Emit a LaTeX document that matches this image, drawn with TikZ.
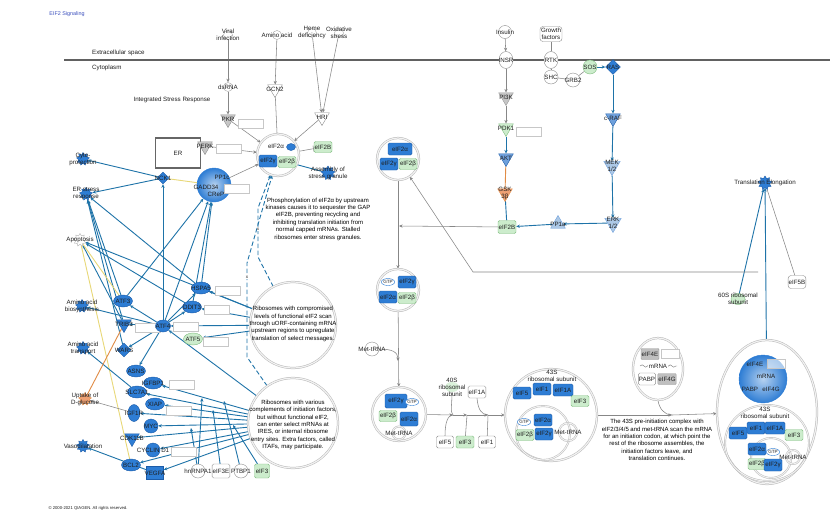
\documentclass[tikz,border=0pt]{standalone}
\usepackage{fontspec}
\setmainfont{Liberation Sans}
\usetikzlibrary{shapes.geometric,arrows.meta,decorations.pathmorphing}
\pgfdeclarelayer{bg}
\pgfsetlayers{bg,main}

\definecolor{nblue}{RGB}{46,125,212}
\definecolor{nbluedk}{RGB}{28,92,168}
\definecolor{mblue}{RGB}{110,160,220}
\definecolor{lblue}{RGB}{172,200,230}
\definecolor{ngreen}{RGB}{204,236,204}
\definecolor{ngreendk}{RGB}{130,190,130}
\definecolor{eblue}{RGB}{30,115,168}
\definecolor{egray}{RGB}{135,135,135}
\definecolor{salmon}{RGB}{238,160,115}
\definecolor{eorange}{RGB}{225,140,70}
\definecolor{eyellow}{RGB}{232,216,120}
\definecolor{titleblue}{RGB}{60,80,190}

\newcommand{\figfont}{\fontsize{6.2}{7}\selectfont}
\newcommand{\notefont}{\fontsize{6}{7.4}\selectfont}
\newcommand{\tinyfont}{\fontsize{4.6}{5.2}\selectfont}

\tikzset{
  lbl/.style={font=\figfont, align=center, inner sep=0pt, text=black!88},
  txt/.style={label={[lbl]center:#1}},
  mol/.style={font=\figfont, align=center, inner sep=0.6pt, text=black!88, line width=0.4pt},
  bov/.style={mol, ellipse, fill=nblue, draw=nbluedk, minimum width=19, minimum height=12},
  brect/.style={mol, rectangle, rounded corners=1.5pt, fill=nblue, draw=nbluedk, minimum width=18, minimum height=12},
  grect/.style={mol, rectangle, rounded corners=1.5pt, fill=ngreen, draw=ngreendk, minimum width=18, minimum height=11},
  wrect/.style={mol, rectangle, rounded corners=1.5pt, fill=white, draw=black!45, minimum width=17, minimum height=12},
  graybox/.style={mol, rectangle, rounded corners=1pt, fill=gray!50, draw=black!40, minimum width=18, minimum height=11},
  wcirc/.style={mol, circle, fill=white, draw=black!45, minimum size=14, inner sep=0pt},
  fun/.style={mol, circle, fill=white, draw=black!35, minimum size=9, inner sep=0pt},
  gtp/.style={mol, ellipse, fill=white, draw=nblue, font=\tinyfont, minimum width=11, minimum height=7, inner sep=0pt},
  kin/.style={mol, regular polygon, regular polygon sides=3, shape border rotate=180, minimum size=17, inner sep=0pt},
  pho/.style={mol, regular polygon, regular polygon sides=3, minimum size=17, inner sep=0pt},
  dia/.style={mol, diamond, minimum size=13, inner sep=0pt, fill=nblue, draw=nbluedk},
  fstar/.style={star, star points=9, star point ratio=1.5, minimum size=13, inner sep=0pt, draw=nbluedk, fill=nblue, line width=0.4pt},
  lbox/.style={rectangle, draw=black!22, fill=white, minimum width=25, minimum height=9, inner sep=0pt},
  grp/.style={circle, draw=black!28, line width=0.5pt, double=black!5, double distance=1.2pt, fill=white},
  grpell/.style={ellipse, draw=black!28, line width=0.5pt, double=black!5, double distance=1.2pt, fill=white},
  inring/.style={draw=black!28, line width=0.45pt, double=black!5, double distance=1pt},
  notetext/.style={lbl, font=\notefont, text=black},
  headtip/.style={-{Stealth[length=3.6pt,width=3.2pt]}},
  bline/.style={draw=eblue, line width=0.9pt},
  bedge/.style={bline, headtip},
  gline/.style={draw=egray, line width=0.55pt},
  gedge/.style={gline, headtip},
  dedge/.style={bedge, dash pattern=on 4.5pt off 2.5pt},
  yline/.style={draw=eyellow, line width=0.9pt},
  oline/.style={draw=eorange, line width=0.9pt},
}

\begin{document}
\begin{tikzpicture}[x=1pt,y=-1pt]
\useasboundingbox (0,0) rectangle (835,512);

% ---------- page furniture
\node[lbl, font=\fontsize{5.4}{6}\selectfont, text=titleblue] (title) at (67,14) {EIF2 Signaling};
\node[lbl, font=\fontsize{4.2}{5}\selectfont] (copyr) at (88,508) {© 2000-2021 QIAGEN. All rights reserved.};
\coordinate (memL) at (64,60);
\coordinate (memR) at (830,60);
\draw[black!62, line width=1.8pt] (memL) -- (memR);
\node[lbl, anchor=west] (extra) at (92,53) {Extracellular space};
\node[lbl, anchor=west] (cytop) at (92,68) {Cytoplasm};
\node[lbl] (isrlabel) at (172,100) {Integrated Stress Response};

% ---------- stress inputs and eIF2 kinases
\node[fun, txt={Viral\\infection}] (vir) at (228,35) {};
\node[fun, txt=dsRNA] (dsrna) at (228,87) {};
\node[fun, txt={Amino acid}] (aa) at (277,35) {};
\node[fun, txt={Heme\\deficiency}] (heme) at (312,33) {};
\node[fun, txt={Oxidative\\stress}] (ox) at (339,33) {};
\node[kin, fill=gray!45, draw=black!45, txt=PKR] (pkr) at (228,119) {};
\node[lbox] (pkrbox) at (251,124) {};
\node[kin, fill=white, draw=black!45, txt=GCN2] (gcn) at (275,89) {};
\node[kin, fill=white, draw=black!45, txt=HRI] (hri) at (322,117) {};
\node[lbl, draw=black!60, line width=1.3pt, minimum width=45, minimum height=30] (er) at (178,153) {ER};
\node[kin, fill=gray!45, draw=black!45, txt=PERK] (perk) at (205,146) {};
\node[lbox] (perkbox) at (229,149) {};

% eIF2 complex held by the kinases
\node[grp, minimum size=42] (isr) at (278,155) {};
\node[bov, minimum width=9, minimum height=7] (isrp) at (291,147) {};
\node[lbl] (isra) at (276,146) {eIF2α};
\node[brect] (isrg) at (268,161) {eIF2γ};
\node[grect] (isrb) at (287,162) {eIF2β};
\node[grect] (eiftb) at (323,147) {eIF2B};
\node[fstar, minimum size=14, txt={Assembly of\\stress granule}] (sg) at (328,173) {};
\node[notetext] (note1) at (318,219) {Phosphorylation of eIF2α by upstream\\kinases causes it to sequester the GAP\\eIF2B, preventing recycling and\\inhibiting translation initiation from\\normal capped mRNAs. Stalled\\ribosomes enter stress granules.};

% ---------- insulin / growth factor signalling
\node[wcirc, minimum size=13, txt=Insulin] (ins) at (505,32) {};
\node[mol, ellipse, fill=white, draw=black!45, minimum width=14, minimum height=17, inner sep=0pt, txt=INSR] (insr) at (506,60) {};
\node[kin, fill=gray!45, draw=black!40, txt=PI3K] (pik) at (506,97) {};
\node[kin, fill=ngreen, draw=ngreendk, txt=PDK1] (pdk) at (506,128) {};
\node[lbox] (pdkbox) at (529,132) {};
\node[kin, fill=mblue, draw=nbluedk, txt=AKT] (akt) at (506,158) {};
\node[kin, fill=salmon, draw=eorange, txt={GSK\\3β}] (gsk) at (505,193) {};
\node[grect, minimum height=13] (eifbr) at (507,227) {eIF2B};
\node[wrect, rounded corners=3pt, minimum width=22, minimum height=15] (gf) at (551,34) {Growth\\factors};
\node[mol, ellipse, fill=white, draw=black!45, minimum width=14, minimum height=17, inner sep=0pt, txt=RTK] (rtk) at (551,60) {};
\node[wcirc, txt=SHC] (shc) at (551,77) {};
\node[wcirc, txt=GRB2] (grb) at (573,80) {};
\node[wcirc, fill=ngreen, draw=ngreendk, txt=SOS] (sos) at (590,67) {};
\node[dia, minimum size=15, txt=RAS] (ras) at (613,67) {};
\node[kin, fill=mblue, draw=nbluedk, txt=c-RAF] (craf) at (613,118) {};
\node[kin, fill=lblue, draw=mblue, minimum size=19, txt={MEK\\1/2}] (mek) at (612,166) {};
\node[kin, fill=lblue, draw=mblue, minimum size=19, txt={ERK\\1/2}] (erk) at (613,223) {};
\node[pho, fill=lblue, draw=mblue, txt=PP1a] (ppa) at (558,224) {};

% ---------- eIF2 recycling and ternary complex
\node[grp, minimum size=42] (ca) at (398,159) {};
\node[brect, minimum width=24] (caa) at (400,149) {eIF2α};
\node[brect] (cag) at (389,164) {eIF2γ};
\node[grect] (cab) at (408,164) {eIF2β};

\node[grp, minimum size=42] (cb) at (398,290) {};
\node[gtp] (cbp) at (388,282) {GTP};
\node[brect] (cbg) at (407,282) {eIF2γ};
\node[brect] (cba) at (388,297) {eIF2α};
\node[grect] (cbb) at (407,298) {eIF2β};

\node[wcirc, txt=Met-tRNA] (mettr) at (372,349) {};

\node[grp, minimum size=54] (cc) at (399,414) {};
\node[brect, minimum width=22, minimum height=14] (ccg) at (396,401) {eIF2γ};
\node[gtp] (ccp) at (412,402) {GTP};
\node[grect] (ccb) at (388,416) {eIF2β};
\node[brect, minimum height=14] (cca) at (409,419) {eIF2α};
\node[circle, inring, minimum size=13, inner sep=0pt, txt=Met-tRNA] (ccm) at (399,433) {};

% factors joining the 40S subunit
\node[mol, ellipse, fill=ngreen!70, minimum width=14, minimum height=10, inner sep=0pt, txt={40S\\ribosomal\\subunit}] (s40) at (452,387) {};
\node[wrect] (e1a) at (477,392) {eIF1A};
\node[wrect] (e5) at (445,442) {eIF5};
\node[grect, minimum height=12] (e3) at (465,442) {eIF3};
\node[wrect] (e1) at (487,442) {eIF1};
\coordinate (j1) at (453,415);
\coordinate (j2) at (467,415);
\coordinate (j3) at (488,415);

% 43S pre-initiation complex
\node[grp, minimum size=92] (cd) at (551,415) {};
\node[lbl] (cdl) at (552,376) {43S\\ribosomal subunit};
\node[brect] (cd5) at (522,393) {eIF5};
\node[brect] (cd1) at (542,389) {eIF1};
\node[brect, minimum width=20] (cd1a) at (563,390) {eIF1A};
\node[grect] (cd3) at (580,401) {eIF3};
\node[circle, inring, minimum size=54] (cdi) at (543,433) {};
\node[gtp] (cdp) at (524,422) {GTP};
\node[brect] (cda) at (543,420) {eIF2α};
\node[grect] (cdb) at (525,435) {eIF2β};
\node[brect] (cdg) at (544,434) {eIF2γ};
\node[circle, inring, minimum size=18, inner sep=0pt, txt=Met-tRNA] (cdm) at (568,432) {};

\coordinate (jm) at (672,415);
\node[notetext] (note3) at (657,440) {The 43S pre-initiation complex with\\eIF2/3/4/5 and met-tRNA scan the mRNA\\for an initiation codon, at which point the\\rest of the ribosome assembles, the\\initiation factors leave, and\\translation continues.};

% capped mRNA complex
\node[grpell, minimum width=50, minimum height=62] (ce) at (658,369) {};
\node[graybox] (ce4e) at (650,354) {eIF4E};
\node[lbox, minimum width=18] (ce4ebox) at (670,354) {};
\coordinate (cew1) at (640,366);
\coordinate (cew2) at (677,366);
\draw[black!55, decorate, decoration={snake, amplitude=1.2pt, segment length=7pt}] (cew1) -- (cew2);
\node[lbl, fill=white, inner sep=0.8pt] (cem) at (658,366) {mRNA};
\node[wrect] (cepab) at (647,379) {PABP};
\node[graybox] (ce4g) at (667,379) {eIF4G};

% complete initiation complex
\node[grpell, minimum width=100, minimum height=144] (cf) at (767,412) {};
\node[circle, inner color=nblue!35, outer color=nblue, draw=nblue, minimum size=48] (cft) at (763,379) {};
\node[lbl] (cf4e) at (755,364) {eIF4E};
\node[lbox, minimum width=18, fill opacity=0.6] (cf4ebox) at (776,364) {};
\node[lbl] (cfm) at (766,376) {mRNA};
\node[lbl] (cfpab) at (750,389) {PABP};
\node[lbl] (cf4g) at (771,389) {eIF4G};
\node[ellipse, inring, minimum width=84, minimum height=76] (cfi) at (767,443) {};
\node[lbl] (cfl) at (765,413) {43S\\ribosomal subunit};
\node[brect] (cf5) at (738,433) {eIF5};
\node[brect] (cf1) at (756,428) {eIF1};
\node[brect, minimum width=20] (cf1a) at (775,428) {eIF1A};
\node[grect] (cf3) at (794,435) {eIF3};
\node[circle, inring, minimum size=40] (cfc) at (771,458) {};
\node[brect] (cfa) at (757,449) {eIF2α};
\node[gtp] (cfp) at (773,452) {GTP};
\node[grect] (cfb) at (757,464) {eIF2β};
\node[brect] (cfg) at (773,465) {eIF2γ};
\node[circle, inring, minimum size=14, inner sep=0pt, txt=Met-tRNA] (cfmt) at (793,457) {};

% elongation
\node[fstar, minimum size=14, txt={Translation Elongation}] (te) at (765,183) {};
\node[mol, ellipse, fill=ngreen, draw=ngreendk, minimum width=14, minimum height=11, inner sep=0pt, txt={60S ribosomal\\subunit}] (s60) at (738,299) {};
\node[wrect, rounded corners=3pt, minimum height=13] (e5b) at (797,282) {eIF5B};
\coordinate (rt1) at (758,272);
\coordinate (rt2) at (473,272);
\coordinate (vj) at (399,226);
\coordinate (mj) at (398,361);

% ---------- left network: outcomes
\node[fstar, txt={Cyto-\\protection}] (fcyto) at (83,159) {};
\node[fstar, txt={ER stress\\response}] (fers) at (86,194) {};
\node[fstar, fill=white, draw=black!30, txt=Apoptosis] (fapo) at (80,240) {};
\node[fstar, txt={Amino acid\\biosynthesis}] (faab) at (82,306) {};
\node[fstar, txt={Amino acid\\transport}] (faat) at (83,348) {};
\node[fstar, fill=salmon, draw=eorange, txt={Uptake of\\D-glucose}] (fglu) at (85,399) {};
\node[fstar, txt=Vasodilatation] (fvaso) at (83,446) {};

% left network: molecules
\node[dia, minimum size=12, txt=NCK1] (nck) at (163,178) {};
\node[circle, inner color=nblue!35, outer color=nblue, draw=nblue, minimum size=34] (pp1) at (214,185) {};
\node[lbl] (pp1lab) at (222,177) {PP1c};
\node[lbl] (gaddlab) at (206,187) {GADD34};
\node[lbl] (creplab) at (216,194) {CReP};
\node[lbox] (pp1box) at (237,189) {};
\node[bov, txt=HSPA5] (hspa) at (201,288) {};
\node[lbox] (hspabox) at (228,291) {};
\node[bov, txt=ATF3] (atf3) at (123,301) {};
\node[bov, txt=DDIT3] (ddit) at (192,307) {};
\node[lbox] (dditbox) at (217,310) {};
\node[kin, fill=nblue, draw=nbluedk, txt=TRIB3] (trib) at (124,324) {};
\node[lbox] (tribbox) at (148,328) {};
\node[bov, minimum width=15, txt=ATF4] (atf4) at (163,326) {};
\node[lbox] (atf4box) at (186,327) {};
\node[bov, fill=ngreen, draw=ngreendk, txt=ATF5] (atf5) at (193,339) {};
\node[lbox] (atf5box) at (216,342) {};
\node[dia, minimum size=14, txt=WARS] (wars) at (124,350) {};
\node[bov, txt=ASNS] (asns) at (136,371) {};
\node[bov, txt=IGFBP1] (igfbp) at (153,383) {};
\node[lbox] (igfbpbox) at (182,385) {};
\node[bov, txt=SLC7A1] (slc) at (137,392) {};
\node[bov, txt=XIAP] (xiap) at (155,404) {};
\node[lbox] (xiapbox) at (179,411) {};
\node[bov, minimum width=12, minimum height=17, txt=IGF1R] (igf1r) at (134,413) {};
\node[bov, minimum width=14, minimum height=14, txt=MYC] (myc) at (151,426) {};
\node[kin, fill=nblue, draw=nbluedk, txt=CDK11B] (cdk) at (132,438) {};
\node[bov, minimum width=14, minimum height=14, txt={CYCLIN D1}] (ccnd) at (153,450) {};
\node[lbox] (ccndbox) at (184,452) {};
\node[bov, txt=BCL2] (bcl) at (131,465) {};
\node[mol, rectangle, fill=nblue, draw=nbluedk, minimum width=17, minimum height=13, txt=VEGFA] (vegf) at (155,473) {};
\node[wcirc, txt=hnRNPA1] (hnr) at (198,471) {};
\node[wrect, minimum width=14, minimum height=14] (e3e) at (221,471) {eIF3E};
\node[wcirc, txt=PTBP1] (ptb) at (241,471) {};
\node[grect, minimum width=15, minimum height=14] (e3b) at (262,471) {eIF3};
\coordinate (ha) at (202,398);
\coordinate (hb) at (191,428);
\coordinate (ea) at (213,410);
\coordinate (pa) at (224,401);
\coordinate (ga) at (233,425);

% translation-control circles
\node[grp, minimum size=86] (c1) at (293,325) {};
\node[notetext] (c1t) at (293,324) {Ribosomes with compromised\\levels of functional eIF2 scan\\through uORF-containing mRNA\\upstream regions to upregulate\\translation of select messages.};
\node[grp, minimum size=90] (c2) at (293,423) {};
\node[notetext] (c2t) at (293,425) {Ribosomes with various\\complements of initiation factors,\\but without functional eIF2,\\can enter select mRNAs at\\IRES, or internal ribosome\\entry sites. Extra factors, called\\ITAFs, may participate.};
\coordinate (dl1) at (247,357);
\coordinate (dl2) at (247,263);
\coordinate (dr1) at (258,257);
\coordinate (dr2) at (258,208);
\node[lbl, font=\tinyfont, fill=white, inner sep=0.3pt] (xm1) at (258,229) {x};
\node[lbl, font=\tinyfont, fill=white, inner sep=0.3pt] (xm2) at (247,277) {x};

% ================= connectors, kept beneath the nodes
\begin{pgfonlayer}{bg}
\fill[white] (0,0) rectangle (835,512);
% kinases onto eIF2
\draw[gedge] (vir) -- (dsrna);
\draw[gedge] (dsrna) -- (pkr);
\draw[gedge] (aa) -- (gcn);
\draw[gedge] (heme) -- (hri);
\draw[gedge] (ox) -- (hri);
\draw[gedge] (pkr) -- (isr);
\draw[gline] (gcn) -- (isr);
\draw[gedge] (hri) -- (isr);
\draw[gedge] (perk) -- (isr);
\draw[gedge] (pp1) -- (isr);
\draw[gline, -{Bar[width=6pt,line width=0.6pt]}] (isr) -- (eiftb);
\draw[bline] (isrb) -- (sg);
\draw[dedge] (c2) -- (dl1) -- (dl2) -- (isr);
\draw[dedge] (c1) -- (dr1) -- (dr2) -- (isr);

% insulin / growth factor branch
\draw[gedge] (ins) -- (insr);
\draw[gedge] (insr) -- (pik);
\draw[gedge] (pik) -- (pdk);
\draw[bedge] (pdk) -- (akt);
\draw[oline] (akt) -- (gsk);
\draw[bline] (gsk) -- (eifbr);
\draw[gline] (gf) -- (rtk);
\draw[gline] (rtk) -- (shc);
\draw[gline] (shc) -- (grb);
\draw[gline] (grb) -- (sos);
\draw[bedge] (sos) -- (ras);
\draw[bedge] (ras) -- (craf);
\draw[bedge] (craf) -- (mek);
\draw[bedge] (mek) -- (erk);
\draw[bedge] (erk) -- (ppa);
\draw[bedge] (ppa) -- (eifbr);
\draw[gedge] (eifbr) -- (vj);

% initiation pathway
\draw[gedge] (ca) -- (cb);
\draw[gedge] (cb) -- (cc);
\draw[gedge] (mettr.east) .. controls (392,349) and (398,352) .. (mj);
\draw[gedge] (cc) -- (j1);
\draw[gedge] (j1) -- (j2);
\draw[gedge] (j2) -- (j3);
\draw[gedge] (j3) -- (cd);
\draw[gline] (s40.south) .. controls (452,405) and (450,412) .. (j1);
\draw[gline] (e5.north) .. controls (445,422) and (448,415) .. (j1);
\draw[gline] (e3) -- (j2);
\draw[gline] (e1a.south) .. controls (478,410) and (482,415) .. (j3);
\draw[gline] (e1) -- (j3);
\draw[gedge] (cd) -- (jm);
\draw[gedge] (jm) -- (cf);
\draw[gline] (ce.south) .. controls (659,408) and (664,415) .. (jm);
\draw[bedge] (cf) -- (te);
\draw[bedge] (s60) -- (te);
\draw[gline] (e5b) -- (te);
\draw[gedge] (rt1) -- (rt2) -- (ca);

% left network
\draw[bedge] (nck) -- (fcyto);
\draw[bedge] (nck) -- (fers);
\draw[bedge] (atf4) -- (nck);
\draw[yline] (nck) -- (pp1);
\draw[bedge] (atf3) -- (fers);
\draw[bedge] (trib) -- (fers);
\draw[bedge] (wars) -- (fers);
\draw[bedge] (hspa) -- (fers);
\draw[bedge] (atf3) -- (pp1);
\draw[bedge] (atf4) -- (pp1);
\draw[bedge] (ddit) -- (pp1);
\draw[bedge] (hspa) -- (pp1);
\draw[bedge] (ddit) -- (fapo);
\draw[bedge] (trib) -- (fapo);
\draw[bedge] (c1) -- (fapo);
\draw[yline] (fapo) -- (bcl);
\draw[yline] (fapo) -- (atf3);
\draw[bedge] (atf4) -- (faab);
\draw[bedge] (atf4) -- (atf3);
\draw[bedge] (atf4) -- (trib);
\draw[bedge] (atf4) -- (wars);
\draw[bedge] (atf4) -- (ddit);
\draw[bedge] (atf4) -- (hspa);
\draw[bedge] (atf4) -- (asns);
\draw[bedge] (slc) -- (faat);
\draw[oline] (fglu) -- (trib);
\draw[gedge] (igf1r) -- (fglu);
\draw[bedge] (vegf) -- (fvaso);
\draw[bedge] (c1) -- (atf4);
\draw[bedge] (c1) -- (ddit);
\draw[bedge] (c1) -- (atf5);
\draw[bedge] (c1) -- (hspa);
\draw[bedge] (c2) -- (atf4);
\draw[bedge] (c2) -- (igfbp);
\draw[bedge] (c2) -- (slc);
\draw[bedge] (c2) -- (xiap);
\draw[bedge] (c2) -- (igf1r);
\draw[bedge] (c2) -- (myc);
\draw[bedge] (c2) -- (cdk);
\draw[bedge] (c2) -- (ccnd);
\draw[bedge] (c2) -- (bcl);
\draw[bedge] (c2) -- (vegf);
\draw[bedge] (hnr) -- (ha);
\draw[bedge] (hnr) -- (hb);
\draw[bedge] (e3e) -- (ea);
\draw[bedge] (ptb) -- (pa);
\draw[bedge] (e3b) -- (ga);
\end{pgfonlayer}
\end{tikzpicture}
\end{document}
